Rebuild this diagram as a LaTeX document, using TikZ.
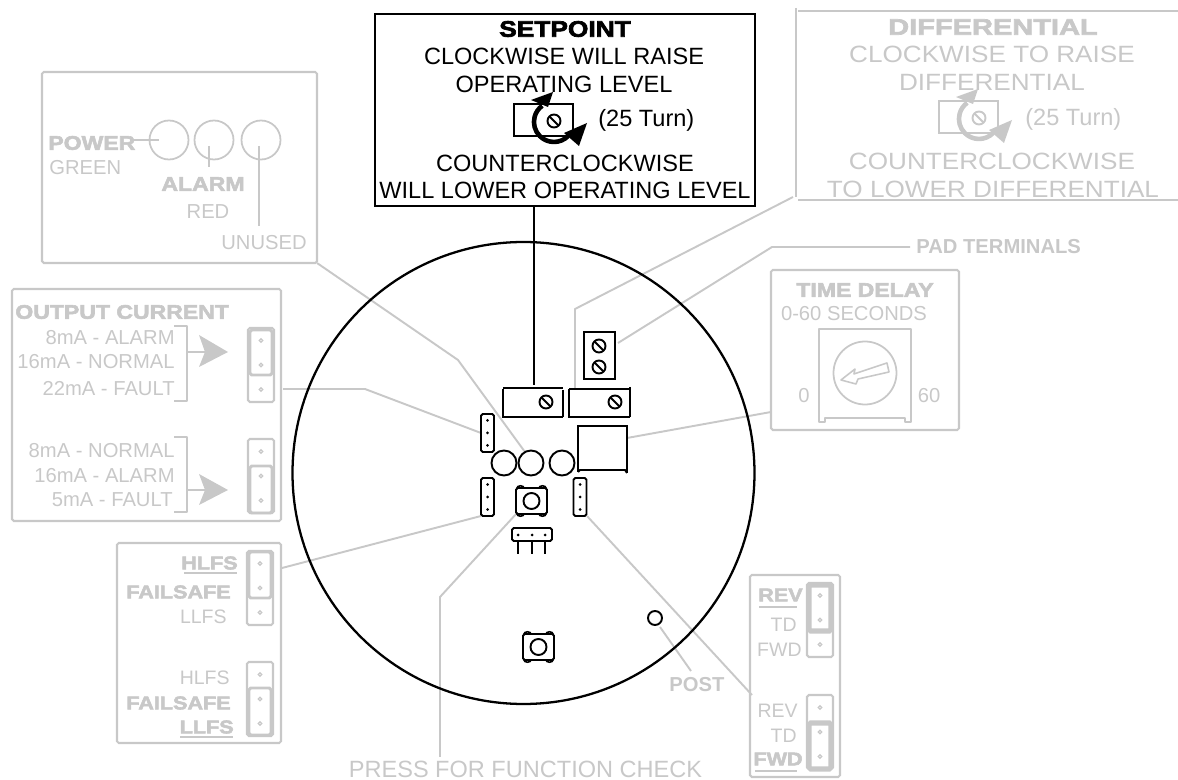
\documentclass[tikz,border=0pt]{standalone}
\usepackage{fontspec}
\setmainfont{Liberation Sans}
\newfontfamily\heavyfont[FakeBold=3,FakeStretch=1.17]{Liberation Sans Bold}
\newfontfamily\broadheavyfont[FakeBold=3,FakeStretch=1.29]{Liberation Sans Bold}
\newfontfamily\broadfont[FakeStretch=1.11]{Liberation Sans}
\usepackage{tikz}
\usetikzlibrary{calc}
\definecolor{paleink}{RGB}{200,200,200}
\tikzset{
    pxlabel/.style={font=\fontsize{13.4}{15}\selectfont,inner sep=0pt},
    pxbroad/.style={font=\broadfont\fontsize{13.4}{15}\selectfont,inner sep=0pt,text=paleink},
    pxside/.style={font=\fontsize{11.5}{14}\selectfont,inner sep=0pt,text=paleink},
    pxtiny/.style={font=\fontsize{11.1}{14}\selectfont,inner sep=0pt,text=paleink},
    pxheavy/.style={font=\heavyfont\fontsize{12.8}{15}\selectfont,inner sep=0pt},
    pxheavyside/.style={font=\heavyfont\fontsize{11.2}{14}\selectfont,inner sep=0pt,text=paleink},
    pxheavytiny/.style={font=\heavyfont\fontsize{10.5}{14}\selectfont,inner sep=0pt,text=paleink},
    pxbold/.style={font=\bfseries\fontsize{11.5}{14}\selectfont,inner sep=0pt,text=paleink},
    boardline/.style={line width=1.1pt,black},
    leaderline/.style={line width=1.1pt,paleink,line join=round},
    palebox/.style={line width=1.2pt,paleink,rounded corners=1pt}
}
% screw head with its slot
\newcommand{\slotscrew}[3]{
	\draw[line width=1.1pt,#3] (#1,#2) circle (6.5);
	\draw[line width=1.1pt,#3] ($(#1,#2)+(-4.5,-4.5)$) -- ($(#1,#2)+(4.5,4.5)$);
}
% trimmer with the two turning arrows
\newcommand{\potdial}[3]{
	\begin{scope}[shift={(#1,#2)}]
		\draw[line width=1pt,#3] (514,104) rectangle (573,136);
		\slotscrew{554}{121}{#3}
		\draw[line width=2.6pt,#3] (568.1,136.1) arc (45:234:20);
		\fill[#3] (553,92) -- (531,100) -- (548,107) -- cycle;
		\fill[#3] (587,123) -- (564,133) -- (579,146) -- cycle;
	\end{scope}
}
% three pin header on the board
\newcommand{\pinheader}[2]{
	\draw[boardline,rounded corners=1pt] (#1-6.5,#2-19) rectangle (#1+6.5,#2+19);
	\foreach \dy in {-12.5,0,12.5}
		\fill[black] (#1,#2+\dy) circle (1.5);
}
% push button with four lugs
\newcommand{\pushbutton}[2]{
	\foreach \sx in {-11,11} \foreach \sy in {-13,13}
		\draw[line width=0.9pt,fill=white] (#1+\sx,#2+\sy) ellipse (3.5 and 2.2);
	\draw[boardline,fill=white,rounded corners=1pt] (#1-15.5,#2-13) rectangle (#1+15.5,#2+13);
	\draw[boardline] (#1,#2) circle (8);
}
% jumper drawing: x, top y, ring top, ring bottom, ring width
\newcommand{\palejumper}[5]{
	\draw[palebox] (#1-13,#2) rectangle (#1+13,#2+74);
	\draw[line width=#5,paleink,rounded corners=1pt] (#1-11,#3) rectangle (#1+11,#4);
	\foreach \dy in {12.5,37,61.5}
		\draw[line width=0.7pt,paleink] (#1,#2+\dy) circle (1.7);
}
\begin{document}
\begin{tikzpicture}[x=0.02cm,y=-0.02cm]
	\useasboundingbox (0,0) rectangle (1178,780);
	
	% leader points
	\path
	(534,207) coordinate (setpointfoot)
	(534,385) coordinate (setpointpot)
	(793,197) coordinate (diffcorner)
	(575,309) coordinate (diffbend)
	(575,388) coordinate (diffpot)
	(910,247) coordinate (padstart)
	(772,247) coordinate (padbend)
	(618,343) coordinate (padblock)
	(317,263) coordinate (ledcorner)
	(458,360) coordinate (ledbend)
	(525,452) coordinate (ledtop)
	(283,389) coordinate (outputside)
	(365,389) coordinate (outputbend)
	(481,433) coordinate (outputpins)
	(282,568) coordinate (failside)
	(481,516) coordinate (failpins)
	(771,412) coordinate (timeside)
	(627,438) coordinate (timesquare)
	(752,695) coordinate (revside)
	(587,516) coordinate (revpins)
	(660,627) coordinate (postring)
	(691,671) coordinate (postword)
	(517,513) coordinate (pressbutton)
	(440,597) coordinate (pressbend)
	(440,757) coordinate (pressword);
	
	% grey leaders
	\draw[leaderline] (diffcorner) -- (diffbend) -- (diffpot);
	\draw[leaderline] (padstart) -- (padbend) -- (padblock);
	\draw[leaderline] (ledcorner) -- (ledbend) -- (ledtop);
	\draw[leaderline] (outputside) -- (outputbend) -- (outputpins);
	\draw[leaderline] (failside) -- (failpins);
	\draw[leaderline] (timeside) -- (timesquare);
	\draw[leaderline] (revside) -- (revpins);
	\draw[leaderline] (postring) -- (postword);
	\draw[leaderline] (pressbutton) -- (pressbend) -- (pressword);
	
	% board
	\draw[line width=1.3pt] (523.5,473) circle (231);
	\draw[boardline] (setpointfoot) -- (setpointpot);
	
	% pots and pad block
	\draw[boardline] (503,388) -- (563,388) (503,389) -- (503,417) -- (563,417) (563,390) -- (563,417);
	\slotscrew{546}{402}{black}
	\draw[boardline] (569,389) -- (630,389) (569,389) -- (569,417) -- (630,417) (630,387) -- (630,417);
	\slotscrew{615}{402}{black}
	\draw[boardline] (584,332) rectangle (615,379);
	\slotscrew{599}{346}{black}
	\slotscrew{599}{367}{black}
	
	% headers, lamps, switches
	\pinheader{487.5}{433}
	\pinheader{487.5}{497}
	\pinheader{580}{497}
	\draw[boardline] (504,463) circle (12.5);
	\draw[boardline] (531,463) circle (12.5);
	\draw[boardline] (562,463) circle (12.5);
	\draw[boardline] (578,472) -- (578,426) -- (627,426) -- (627,473) (578,472) -- (580,470) -- (625,470) -- (627,473);
	\pushbutton{531.5}{501}
	\pushbutton{538.5}{647}
	\draw[boardline,rounded corners=1pt] (512,528) rectangle (552,541);
	\foreach \px in {518,532,545}{
		\fill[black] (\px,535) circle (1.5);
		\draw[boardline] (\px,541) -- (\px,554);
	}
	\draw[line width=1.1pt] (655,618) circle (7);
	
	% setpoint panel
	\draw[line width=1.1pt] (375,14) rectangle (755,206);
	\node[pxheavy] (setpointhead) at (565,29) {SETPOINT};
	\node[pxlabel] (setpointcw) at (564,56) {CLOCKWISE WILL RAISE};
	\node[pxlabel] (setpointlevel) at (564,84) {OPERATING LEVEL};
	\node[pxlabel,anchor=west] (setpointturn) at (598,120) {(25 Turn)};
	\node[pxlabel] (setpointccw) at (565,163) {COUNTERCLOCKWISE};
	\node[pxlabel] (setpointlower) at (565,190) {WILL LOWER OPERATING LEVEL};
	\potdial{0}{0}{black}
	
	% differential panel
	\draw[line width=1.2pt,paleink] (796,8) -- (796,197) (798,200) -- (1178,200) (798,11) -- (1178,11);
	\node[font=\broadheavyfont\fontsize{12.8}{15}\selectfont,inner sep=0pt,text=paleink] (diffhead) at (993,27) {DIFFERENTIAL};
	\node[pxbroad] (diffcw) at (992,54) {CLOCKWISE TO RAISE};
	\node[pxbroad] (diffword) at (992,82) {DIFFERENTIAL};
	\node[pxlabel,text=paleink,anchor=west] (diffturn) at (1025,119) {(25 Turn)};
	\node[pxbroad] (diffccw) at (992,161) {COUNTERCLOCKWISE};
	\node[pxbroad] (difflower) at (993,189) {TO LOWER DIFFERENTIAL};
	\potdial{425}{-3}{paleink}
	
	% pad terminals
	\node[pxbold,anchor=west] (padword) at (916,247) {PAD TERMINALS};
	
	% lamp panel
	\draw[palebox] (42,72) rectangle (317,263);
	\draw[line width=1pt,paleink] (169,140) circle (19.5);
	\draw[line width=1pt,paleink] (214,140) circle (19.5);
	\draw[line width=1pt,paleink] (261,140) circle (19.5);
	\draw[leaderline] (130,140) -- (159,140);
	\draw[leaderline] (209,146) -- (209,167);
	\draw[leaderline] (259,146) -- (259,226);
	\node[pxheavyside,anchor=west] (powerword) at (48,143) {POWER};
	\node[pxside,anchor=west] (greenword) at (49,168) {GREEN};
	\node[pxheavyside] (alarmword) at (203,184) {ALARM};
	\node[pxside] (redword) at (208,212) {RED};
	\node[pxside,anchor=east] (unusedword) at (307,243) {UNUSED};
	
	% output current panel
	\draw[palebox] (12,289) rectangle (281,521);
	\node[pxheavyside,anchor=west] (outputhead) at (15,312) {OUTPUT CURRENT};
	\node[pxside,anchor=east] (outa) at (175,338) {8mA - ALARM};
	\node[pxside,anchor=east] (outb) at (175,362) {16mA - NORMAL};
	\node[pxside,anchor=east] (outc) at (175,389) {22mA - FAULT};
	\node[pxside,anchor=east] (outd) at (175,451) {8mA - NORMAL};
	\node[pxside,anchor=east] (oute) at (175,476) {16mA - ALARM};
	\node[pxside,anchor=east] (outf) at (173,500) {5mA - FAULT};
	\draw[leaderline] (174,326) -- (187,326) -- (187,401) -- (174,401);
	\draw[leaderline] (174,437) -- (187,437) -- (187,512) -- (174,512);
	\draw[leaderline] (187,352) -- (205,352);
	\draw[leaderline] (187,490) -- (205,490);
	\fill[paleink] (228,352) -- (199,335) -- (205,352) -- (199,367) -- cycle;
	\fill[paleink] (228,490) -- (199,474) -- (205,490) -- (199,505) -- cycle;
	\palejumper{261}{328}{330}{375}{1.7pt}
	\palejumper{261}{439}{466}{513}{1.7pt}
	
	% failsafe panel
	\draw[palebox] (117,543) rectangle (281,743);
	\node[pxheavytiny,anchor=east] (hlfshead) at (238,563) {HLFS};
	\node[pxheavytiny,anchor=east] (failtop) at (231,592) {FAILSAFE};
	\node[pxtiny,anchor=east] (llfsword) at (227,617) {LLFS};
	\node[pxtiny,anchor=east] (hlfsword) at (230,678) {HLFS};
	\node[pxheavytiny,anchor=east] (failbottom) at (231,703) {FAILSAFE};
	\node[pxheavytiny,anchor=east] (llfshead) at (234,727) {LLFS};
	\draw[leaderline] (184,573) -- (237,573);
	\draw[leaderline] (180,737) -- (233,737);
	\palejumper{260}{551}{552}{598}{1.7pt}
	\palejumper{260}{662}{688}{735}{1.7pt}
	
	% time delay panel
	\draw[palebox] (771,270) rectangle (959,430);
	\node[pxheavyside] (timehead) at (865,290) {TIME DELAY};
	\node[pxside] (timerange) at (854,314) {0-60 SECONDS};
	\draw[line width=1pt,paleink,line join=round] (819,422) -- (819,329) -- (911,329) -- (911,422) -- (905,422) -- (905,418) -- (825,418) -- (825,422) -- cycle;
	\draw[line width=1pt,paleink] (865,373) circle (31.5);
	\draw[line width=0.9pt,paleink,line join=round] (841,380) -- (855,369) -- (854,374) -- (887,363) -- (889,372) -- (858,379) -- (856,384) -- cycle;
	\node[pxside] (timezero) at (804,396) {0};
	\node[pxside] (timesixty) at (929,396) {60};
	
	% rev panel
	\draw[palebox] (750,575) rectangle (840,777);
	\node[pxheavytiny,anchor=east] (revhead) at (803,595) {REV};
	\node[pxtiny,anchor=east] (tdtop) at (797,625) {TD};
	\node[pxtiny,anchor=east] (fwdword) at (802,650) {FWD};
	\node[pxtiny,anchor=east] (revword) at (798,711) {REV};
	\node[pxtiny,anchor=east] (tdbottom) at (797,736) {TD};
	\node[pxheavytiny,anchor=east] (fwdhead) at (803,759) {FWD};
	\draw[leaderline] (759,607) -- (797,607);
	\draw[leaderline] (755,771) -- (797,771);
	\palejumper{820}{583}{585}{631}{3pt}
	\palejumper{820}{695}{723}{769}{3pt}
	
	% loose words
	\node[pxbold] (postlabel) at (697,685) {POST};
	\node[pxlabel,text=paleink] (presslabel) at (525.5,769) {PRESS FOR FUNCTION CHECK};
\end{tikzpicture}
\end{document}
